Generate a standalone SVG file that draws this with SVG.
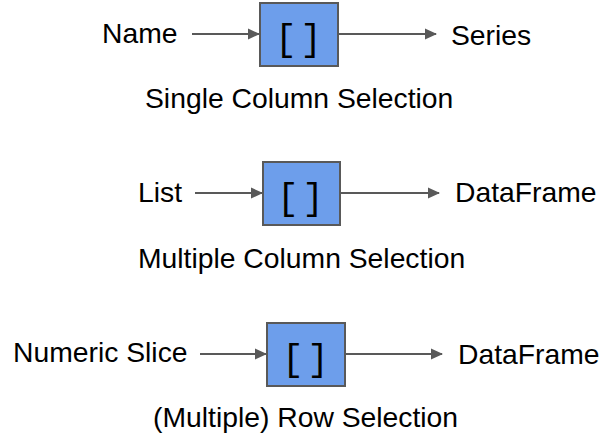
<svg xmlns="http://www.w3.org/2000/svg" width="612" height="436" viewBox="0 0 612 436">
<style>
.t{font-family:"Liberation Sans",Arial,sans-serif;font-size:28.3px;fill:#000}
.box{fill:#6d9eeb;stroke:#595959;stroke-width:2}
.br{font-family:"Liberation Mono","Courier New",monospace;font-size:36px;fill:#000;letter-spacing:-9px}
.c{stroke:#595959;stroke-width:2;fill:none;marker-end:url(#ah)}
</style>
<defs>
<marker id="ah" markerWidth="12" markerHeight="12" refX="11" refY="5.5" orient="auto" markerUnits="userSpaceOnUse" viewBox="0 0 12 11">
<path d="M0,0 L12,5.5 L0,11 z" fill="#595959"/>
</marker>
</defs>
<rect width="612" height="436" fill="#fff"/>
<g id="connectors">
<line class="c" x1="192" y1="34" x2="259" y2="34"/>
<line class="c" x1="338" y1="34" x2="436" y2="34"/>
<line class="c" x1="195" y1="193" x2="262" y2="193"/>
<line class="c" x1="340" y1="193" x2="439" y2="193"/>
<line class="c" x1="200" y1="354" x2="266" y2="354"/>
<line class="c" x1="345" y1="354" x2="442" y2="354"/>
</g>
<g id="row1">
<text class="t" x="102" y="43">Name</text>
<g id="box1"><rect class="box" x="260" y="3" width="78" height="63"/><text class="br" x="275" y="50">[ ]</text></g>
<text class="t" x="451" y="45">Series</text>
<text class="t" x="145" y="108">Single Column Selection</text>
</g>
<g id="row2">
<text class="t" x="138" y="202">List</text>
<g id="box2"><rect class="box" x="263" y="162" width="77" height="63"/><text class="br" x="277" y="209">[ ]</text></g>
<text class="t" x="455" y="202">DataFrame</text>
<text class="t" x="138" y="268">Multiple Column Selection</text>
</g>
<g id="row3">
<text class="t" x="13" y="362">Numeric Slice</text>
<g id="box3"><rect class="box" x="267" y="323" width="78" height="63"/><text class="br" x="282" y="370">[ ]</text></g>
<text class="t" x="458" y="364">DataFrame</text>
<text class="t" x="153" y="427">(Multiple) Row Selection</text>
</g>
</svg>
